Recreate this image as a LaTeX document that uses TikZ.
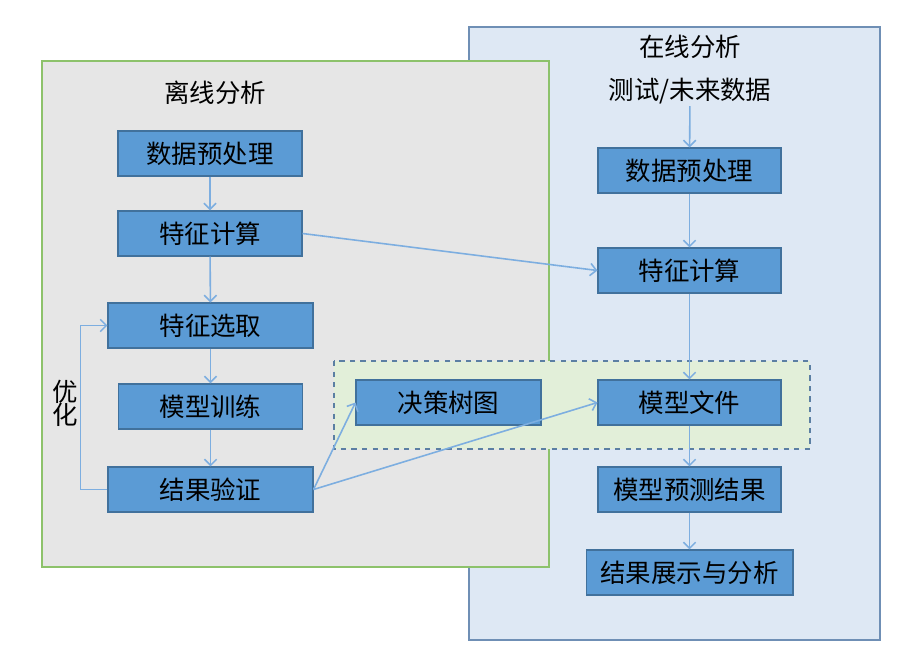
\documentclass[tikz,border=0pt]{standalone}
\usepackage{fontspec}
\setmainfont{Noto Sans CJK SC}
\usetikzlibrary{arrows.meta}

\definecolor{boxblue}{HTML}{5B9BD5}
\definecolor{boxedge}{HTML}{41719C}
\definecolor{linkblue}{HTML}{7DAEE0}
\definecolor{offfill}{HTML}{E6E6E6}
\definecolor{offedge}{HTML}{8DC26B}
\definecolor{onfill}{HTML}{DEE8F4}
\definecolor{onedge}{HTML}{6F8FB5}
\definecolor{modfill}{HTML}{E2EFD9}
\definecolor{modedge}{HTML}{5B7FA3}

\tikzset{
    txt/.style={font=\fontsize{14.5}{16}\selectfont, inner sep=1pt},
    proc/.style={txt, draw=boxedge, fill=boxblue, line width=0.6pt,
        minimum width=3.68cm, minimum height=0.9cm},
    wide/.style={proc, minimum width=4.1cm},
    flow/.style={draw=linkblue, line width=0.9pt,
        -{Straight Barb[length=3.5pt,width=7pt]}}
}

\begin{document}
\begin{tikzpicture}[x=0.02cm,y=-0.02cm]
    \useasboundingbox (0,0) rectangle (916,649);

    % panels
    \draw[onedge, fill=onfill, line width=0.7pt] (469,27) rectangle (880,640);
    \draw[offedge, fill=offfill, line width=0.7pt] (42,61) rectangle (549,567);
    \draw[modedge, fill=modfill, line width=0.7pt, dashed] (334,361) rectangle (810,449);

    \node[txt] (offtitle) at (215,93) {离线分析};
    \node[txt] (ontitle) at (690,47) {在线分析};

    % offline
    \node[proc] (ldata) at (210,153.5) {数据预处理};
    \node[proc] (lfeat) at (210,233.5) {特征计算};
    \node[wide] (lsel) at (210.5,325.5) {特征选取};
    \node[proc] (ltrain) at (210.5,406.5) {模型训练};
    \node[wide] (lcheck) at (210.5,489.5) {结果验证};
    \node[txt, align=center] (opt) at (65,403) {优\\[-3pt]化};
    \node[proc, minimum width=3.7cm] (tree) at (448.5,402.5) {决策树图};

    % online
    \node[txt] (input) at (690,91) {测试/未来数据};
    \node[proc, minimum width=3.66cm] (rdata) at (689.5,170.5) {数据预处理};
    \node[proc, minimum width=3.66cm] (rfeat) at (689.5,270.5) {特征计算};
    \node[proc, minimum width=3.66cm] (rmodel) at (689.5,402.5) {模型文件};
    \node[proc, minimum width=3.66cm] (rpred) at (689.5,489.5) {模型预测结果};
    \node[proc, minimum width=4.14cm] (rshow) at (689.5,572.5) {结果展示与分析};

    % connectors
    \draw[flow] (ldata) -- (lfeat);
    \draw[flow] (lfeat) -- (lsel);
    \draw[flow] (lsel) -- (ltrain);
    \draw[flow] (ltrain) -- (lcheck);
    \draw[flow] (lcheck.west) -- ++(-27,0) |- (lsel.west);
    \draw[flow] (lcheck.east) -- (tree.west);
    \draw[flow] (lcheck.east) -- (rmodel.west);
    \draw[flow] (lfeat.east) -- (rfeat.west);
    \draw[flow] (input) -- (rdata);
    \draw[flow] (rdata) -- (rfeat);
    \draw[flow] (rfeat) -- (rmodel);
    \draw[flow] (rmodel) -- (rpred);
    \draw[flow] (rpred) -- (rshow);
\end{tikzpicture}
\end{document}
